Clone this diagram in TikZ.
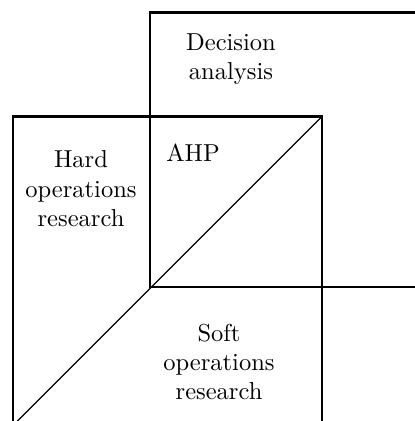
\documentclass[tikz,border=0pt]{standalone}
\begin{document}
\begin{tikzpicture}[x=0.408pt,y=-0.408pt,
  boxline/.style={line width=1pt},
  diag/.style={line width=0.45pt},
  lbl/.style={align=center,font=\normalsize,inner sep=0pt}]
\useasboundingbox (0,0) rectangle (415,421);
\clip (0,0) rectangle (415,421);
\coordinate (datl) at (150,12.5);
\coordinate (dabr) at (440,287);
\coordinate (ortl) at (13,116.5);
\coordinate (orbr) at (322,440);
\coordinate (dstart) at (322,116.5);
\coordinate (dend) at (13,425.5);
\draw[boxline] (datl) rectangle (dabr);
\draw[boxline] (ortl) rectangle (orbr);
\draw[diag] (dstart) -- (dend);
\node[lbl] (da) at (231,59) {Decision\\analysis};
\node[lbl] (ahp) at (193,153) {AHP};
\node[lbl] (hard) at (81,189) {Hard\\operations\\research};
\node[lbl] (soft) at (219,362) {Soft\\operations\\research};
\end{tikzpicture}
\end{document}
